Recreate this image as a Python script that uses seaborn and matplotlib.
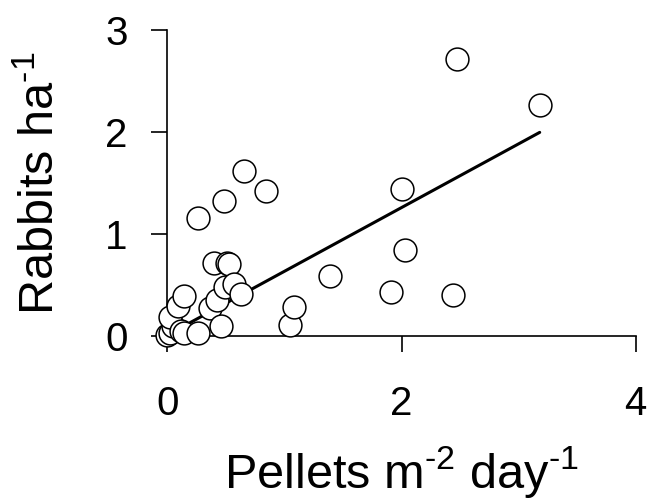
import numpy as np
import pandas as pd
import matplotlib
matplotlib.use("Agg")
import matplotlib.pyplot as plt
import seaborn as sns

# values
pellets = [0.00, 0.02, 0.05, 0.02, 0.09, 0.14, 0.12, 0.14, 0.26, 0.26,
           0.40, 0.51, 0.53, 0.48, 0.65, 0.84, 0.36, 0.42, 0.46, 0.49,
           0.57, 0.63, 1.05, 1.08, 1.39, 1.91, 2.00, 2.03, 2.44, 2.47, 3.18]
rabbits = [0.01, 0.03, 0.10, 0.19, 0.29, 0.39, 0.05, 0.03, 0.03, 1.16,
           0.72, 0.72, 0.71, 1.32, 1.62, 1.42, 0.27, 0.35, 0.10, 0.48,
           0.51, 0.41, 0.11, 0.28, 0.59, 0.43, 1.44, 0.84, 0.40, 2.72, 2.27]

# fitted line as shown in the figure
fit_slope = 0.625
fit_intercept = 0.01
fit_x = [0.0, 3.18]

df = pd.DataFrame({"pellets": pellets, "rabbits": rabbits})
line_df = pd.DataFrame({"x": fit_x,
                        "y": [fit_intercept + fit_slope * v for v in fit_x]})

sns.set_style("ticks")
plt.rcParams["font.family"] = ["Liberation Sans", "DejaVu Sans"]
plt.rcParams["mathtext.fontset"] = "custom"
plt.rcParams["mathtext.rm"] = "Liberation Sans"
plt.rcParams["mathtext.it"] = "Liberation Sans"
plt.rcParams["text.color"] = "black"
plt.rcParams["axes.labelcolor"] = "black"
plt.rcParams["xtick.color"] = "black"
plt.rcParams["ytick.color"] = "black"
plt.rcParams["axes.edgecolor"] = "black"

fig = plt.figure(figsize=(6.54, 5.03), dpi=100)
ax = fig.add_axes([0.256, 0.332, 0.716, 0.608])

sns.lineplot(data=line_df, x="x", y="y", ax=ax, color="black", linewidth=2.2)
sns.scatterplot(data=df, x="pellets", y="rabbits", ax=ax, s=270,
                facecolor="white", edgecolor="black", linewidth=1.1,
                clip_on=False, zorder=3)

ax.set_xlim(0, 4)
ax.set_ylim(0, 3)
ax.set_xticks([0, 2, 4])
ax.set_yticks([0, 1, 2, 3])
ax.tick_params(axis="both", direction="out", length=11.5, width=1.2,
               labelsize=29)
ax.tick_params(axis="x", pad=24)
ax.tick_params(axis="y", pad=17)
for side in ["left", "bottom"]:
    ax.spines[side].set_linewidth(1.2)
sns.despine(ax=ax)

ax.set_xlabel(r"Pellets m$^{\text{-}2}$ day$^{\text{-}1}$", fontsize=35, labelpad=15)
ax.set_ylabel(r"Rabbits ha$^{\text{-}1}$", fontsize=35, labelpad=30)

fig.savefig("out.png", dpi=100)
